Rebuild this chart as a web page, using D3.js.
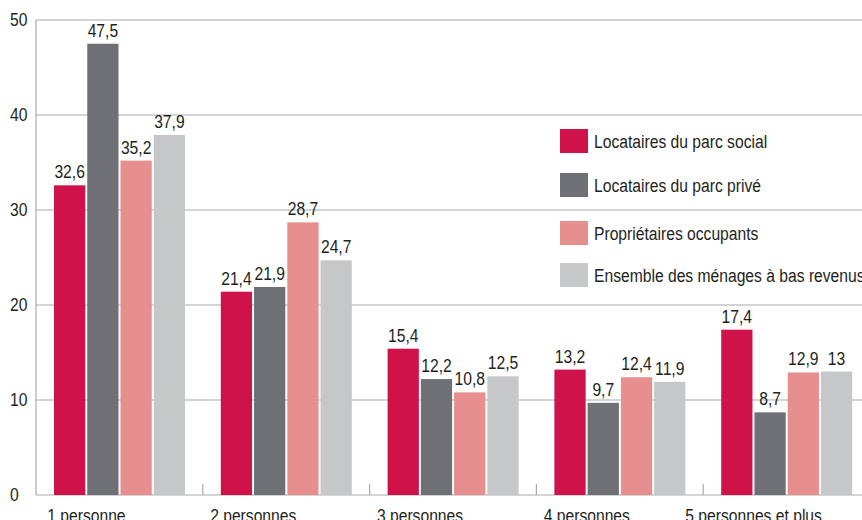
<!DOCTYPE html>
<html>
<head>
<meta charset="utf-8">
<script src="https://cdn.jsdelivr.net/npm/d3@7"></script>
<style>
  body { margin: 0; background: #fff; }
  svg text { font-family: "Liberation Sans", Arial, sans-serif; fill: #231f20; }
</style>
</head>
<body>
<svg width="862" height="520"></svg>
<script>
// data
const categories = ["1 personne", "2 personnes", "3 personnes", "4 personnes", "5 personnes et plus"];
const seriesNames = ["Locataires du parc social", "Locataires du parc privé", "Propriétaires occupants", "Ensemble des ménages à bas revenus"];
const social = [32.6, 21.4, 15.4, 13.2, 17.4];
const prive = [47.5, 21.9, 12.2, 9.7, 8.7];
const proprio = [35.2, 28.7, 10.8, 12.4, 12.9];
const ensemble = [37.9, 24.7, 12.5, 11.9, 13];
const yTicks = [0, 10, 20, 30, 40, 50];

const series = [social, prive, proprio, ensemble];
const colors = ["#d0124b", "#6f7075", "#e78e8e", "#c6c7c9"];

let svg = d3.select("svg");
let fmt = (v) => String(v).replace(".", ",");
// condensed look: squeeze the glyphs horizontally
let squeeze = (x, y) => "translate(" + x + "," + y + ") scale(0.87,1)";

let x0 = d3.scaleBand().domain(categories).range([36, 870]).padding(0);
let x1 = d3.scaleBand().domain(d3.range(4)).range([18, 149]).paddingInner(0.06);
let y = d3.scaleLinear().domain([0, 50]).range([495, 20]);

// grid
svg.append("g").attr("id", "grid")
  .selectAll("line")
  .data(yTicks)
  .enter().append("line")
    .attr("x1", 36).attr("x2", 862)
    .attr("y1", (d) => y(d)).attr("y2", (d) => y(d))
    .attr("stroke", "#a7a9ac").attr("stroke-width", 1.2);

// y axis line
svg.append("line")
  .attr("x1", 36).attr("x2", 36)
  .attr("y1", y(50)).attr("y2", y(0))
  .attr("stroke", "#a7a9ac").attr("stroke-width", 1.2);

// y labels
svg.append("g").selectAll("text")
  .data(yTicks)
  .enter().append("text")
    .attr("transform", (d) => squeeze(10, y(d) + 6))
    .attr("font-size", 18)
    .text((d) => d);

// category ticks
svg.append("g").selectAll("line")
  .data(categories.slice(1))
  .enter().append("line")
    .attr("x1", (d) => x0(d)).attr("x2", (d) => x0(d))
    .attr("y1", y(0)).attr("y2", y(0) - 11)
    .attr("stroke", "#a7a9ac").attr("stroke-width", 1.2);

// bars
let groups = svg.append("g").attr("id", "bars")
  .selectAll("g")
  .data(categories)
  .enter().append("g")
    .attr("transform", (d) => "translate(" + x0(d) + ",0)");

groups.selectAll("rect")
  .data((d, i) => series.map((s, k) => ({k: k, v: s[i]})))
  .enter().append("rect")
    .attr("x", (d) => x1(d.k))
    .attr("width", x1.bandwidth())
    .attr("y", (d) => y(d.v))
    .attr("height", (d) => y(0) - y(d.v))
    .attr("fill", (d) => colors[d.k]);

groups.selectAll("text")
  .data((d, i) => series.map((s, k) => ({k: k, v: s[i]})))
  .enter().append("text")
    .attr("transform", (d) => squeeze(x1(d.k) + x1.bandwidth() / 2, y(d.v) - 7))
    .attr("text-anchor", "middle")
    .attr("font-size", 18)
    .text((d) => fmt(d.v));

// category labels
svg.append("g").selectAll("text")
  .data(categories)
  .enter().append("text")
    .attr("transform", (d) => squeeze(x0(d) + x0.bandwidth() / 2 - 33, 522))
    .attr("text-anchor", "middle")
    .attr("font-size", 18)
    .text((d) => d);

// legend
let legendY = [129, 173, 221, 263];
let legend = svg.append("g").attr("id", "legend")
  .selectAll("g")
  .data(seriesNames)
  .enter().append("g")
    .attr("transform", (d, i) => "translate(560," + legendY[i] + ")");

legend.append("rect")
  .attr("width", 28).attr("height", 24)
  .attr("fill", (d, i) => colors[i]);

legend.append("text")
  .attr("transform", squeeze(34, 19))
  .attr("font-size", 18)
  .text((d) => d);
</script>
</body>
</html>
